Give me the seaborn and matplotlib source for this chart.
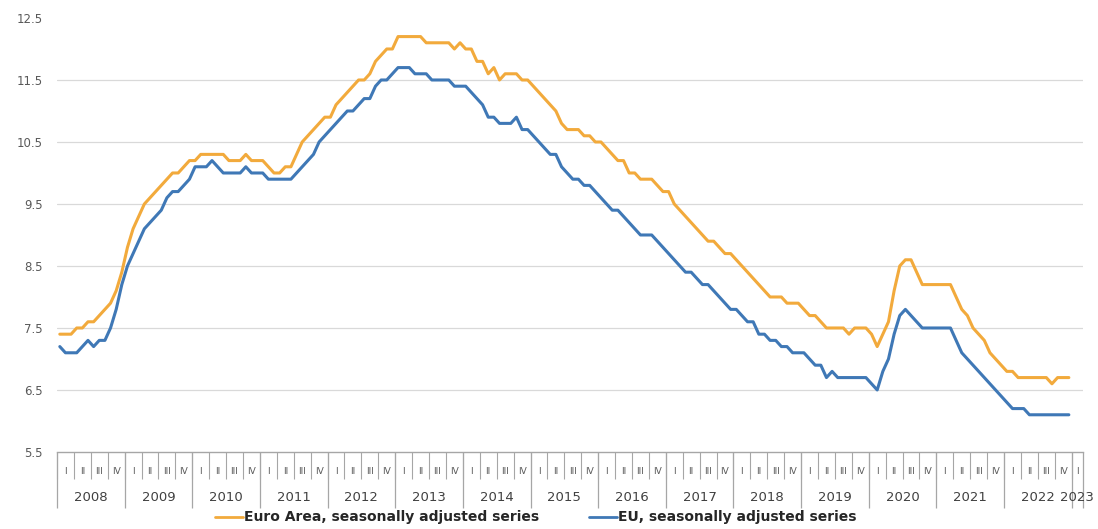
import numpy as np
import pandas as pd
import matplotlib
matplotlib.use("Agg")
import matplotlib.pyplot as plt
from matplotlib.lines import Line2D
import seaborn as sns

# ---------------- data ----------------
years = [str(y) for y in range(2008, 2024)]
quarters = ["I", "II", "III", "IV"]
n_months = 182  # Jan 2008 .. Feb 2023 categories on the axis

series_names = ["Euro Area, seasonally adjusted series", "EU, seasonally adjusted series"]

euro_area = [
    7.4, 7.4, 7.4, 7.5, 7.5, 7.6, 7.6, 7.7, 7.8, 7.9, 8.1, 8.4,          # 2008
    8.8, 9.1, 9.3, 9.5, 9.6, 9.7, 9.8, 9.9, 10.0, 10.0, 10.1, 10.2,     # 2009
    10.2, 10.3, 10.3, 10.3, 10.3, 10.3, 10.2, 10.2, 10.2, 10.3, 10.2, 10.2,  # 2010
    10.2, 10.1, 10.0, 10.0, 10.1, 10.1, 10.3, 10.5, 10.6, 10.7, 10.8, 10.9,  # 2011
    10.9, 11.1, 11.2, 11.3, 11.4, 11.5, 11.5, 11.6, 11.8, 11.9, 12.0, 12.0,  # 2012
    12.2, 12.2, 12.2, 12.2, 12.2, 12.1, 12.1, 12.1, 12.1, 12.1, 12.0, 12.1,  # 2013
    12.0, 12.0, 11.8, 11.8, 11.6, 11.7, 11.5, 11.6, 11.6, 11.6, 11.5, 11.5,  # 2014
    11.4, 11.3, 11.2, 11.1, 11.0, 10.8, 10.7, 10.7, 10.7, 10.6, 10.6, 10.5,  # 2015
    10.5, 10.4, 10.3, 10.2, 10.2, 10.0, 10.0, 9.9, 9.9, 9.9, 9.8, 9.7,       # 2016
    9.7, 9.5, 9.4, 9.3, 9.2, 9.1, 9.0, 8.9, 8.9, 8.8, 8.7, 8.7,              # 2017
    8.6, 8.5, 8.4, 8.3, 8.2, 8.1, 8.0, 8.0, 8.0, 7.9, 7.9, 7.9,              # 2018
    7.8, 7.7, 7.7, 7.6, 7.5, 7.5, 7.5, 7.5, 7.4, 7.5, 7.5, 7.5,              # 2019
    7.4, 7.2, 7.4, 7.6, 8.1, 8.5, 8.6, 8.6, 8.4, 8.2, 8.2, 8.2,              # 2020
    8.2, 8.2, 8.2, 8.0, 7.8, 7.7, 7.5, 7.4, 7.3, 7.1, 7.0, 6.9,              # 2021
    6.8, 6.8, 6.7, 6.7, 6.7, 6.7, 6.7, 6.7, 6.6, 6.7, 6.7, 6.7,              # 2022
]

eu = [
    7.2, 7.1, 7.1, 7.1, 7.2, 7.3, 7.2, 7.3, 7.3, 7.5, 7.8, 8.2,              # 2008
    8.5, 8.7, 8.9, 9.1, 9.2, 9.3, 9.4, 9.6, 9.7, 9.7, 9.8, 9.9,              # 2009
    10.1, 10.1, 10.1, 10.2, 10.1, 10.0, 10.0, 10.0, 10.0, 10.1, 10.0, 10.0,  # 2010
    10.0, 9.9, 9.9, 9.9, 9.9, 9.9, 10.0, 10.1, 10.2, 10.3, 10.5, 10.6,       # 2011
    10.7, 10.8, 10.9, 11.0, 11.0, 11.1, 11.2, 11.2, 11.4, 11.5, 11.5, 11.6,  # 2012
    11.7, 11.7, 11.7, 11.6, 11.6, 11.6, 11.5, 11.5, 11.5, 11.5, 11.4, 11.4,  # 2013
    11.4, 11.3, 11.2, 11.1, 10.9, 10.9, 10.8, 10.8, 10.8, 10.9, 10.7, 10.7,  # 2014
    10.6, 10.5, 10.4, 10.3, 10.3, 10.1, 10.0, 9.9, 9.9, 9.8, 9.8, 9.7,       # 2015
    9.6, 9.5, 9.4, 9.4, 9.3, 9.2, 9.1, 9.0, 9.0, 9.0, 8.9, 8.8,              # 2016
    8.7, 8.6, 8.5, 8.4, 8.4, 8.3, 8.2, 8.2, 8.1, 8.0, 7.9, 7.8,              # 2017
    7.8, 7.7, 7.6, 7.6, 7.4, 7.4, 7.3, 7.3, 7.2, 7.2, 7.1, 7.1,              # 2018
    7.1, 7.0, 6.9, 6.9, 6.7, 6.8, 6.7, 6.7, 6.7, 6.7, 6.7, 6.7,              # 2019
    6.6, 6.5, 6.8, 7.0, 7.4, 7.7, 7.8, 7.7, 7.6, 7.5, 7.5, 7.5,              # 2020
    7.5, 7.5, 7.5, 7.3, 7.1, 7.0, 6.9, 6.8, 6.7, 6.6, 6.5, 6.4,              # 2021
    6.3, 6.2, 6.2, 6.2, 6.1, 6.1, 6.1, 6.1, 6.1, 6.1, 6.1, 6.1,              # 2022
]

colors = ["#F2AA3C", "#3F78B6"]

# ---------------- style ----------------
sns.set_theme(style="white")
plt.rcParams["font.family"] = ["DejaVu Sans"]

fig = plt.figure(figsize=(10.98, 5.29), dpi=100)
ax = fig.add_axes([0.0519, 0.1456, 0.9344, 0.8204])

df = pd.DataFrame({
    "month": np.concatenate([np.arange(len(euro_area)), np.arange(len(eu))]) + 0.5,
    "rate": euro_area + eu,
    "series": [series_names[0]] * len(euro_area) + [series_names[1]] * len(eu),
})
sns.lineplot(data=df, x="month", y="rate", hue="series", hue_order=series_names,
             palette=colors, linewidth=2.2, ax=ax, legend=False)

ax.set_xlim(0, n_months)
ax.set_ylim(5.5, 12.5)
ax.set_yticks(np.arange(5.5, 12.6, 1.0))
ax.set_yticklabels([f"{v:.1f}" for v in np.arange(5.5, 12.6, 1.0)])
ax.set_xlabel("")
ax.set_ylabel("")
ax.yaxis.grid(True, color="#d9d9d9", linewidth=0.9)
ax.set_axisbelow(True)
gl = ax.get_ygridlines()
gl[0].set_visible(False)
gl[-1].set_visible(False)

for s in ["left", "top", "right"]:
    ax.spines[s].set_visible(False)
ax.spines["bottom"].set_color("#a6a6a6")
ax.spines["bottom"].set_linewidth(1.0)

ax.tick_params(axis="y", length=0, labelsize=8.5, labelcolor="#595959", pad=10)

# month ticks
ax.set_xticks(np.arange(0, n_months + 1))
ax.set_xticklabels([])
ax.tick_params(axis="x", length=7, width=0.8, color="#a6a6a6", direction="out")

trans = ax.get_xaxis_transform()
# quarter separators
q_bounds = np.arange(0, n_months + 1, 3)
ax.vlines(q_bounds, -0.062, 0, transform=trans, colors="#a6a6a6", linewidth=0.8, clip_on=False)
# year separators
y_bounds = list(np.arange(0, n_months, 12)) + [n_months]
ax.vlines(y_bounds, -0.128, 0, transform=trans, colors="#a6a6a6", linewidth=0.9, clip_on=False)

# quarter labels
for qs in range(0, n_months, 3):
    qe = min(qs + 3, n_months)
    ax.text((qs + qe) / 2, -0.044, quarters[(qs // 3) % 4], transform=trans,
            ha="center", va="center", fontsize=6.5, color="#595959")

# year labels
for k, yr in enumerate(years):
    ys = k * 12
    ye = min(ys + 12, n_months)
    ax.text((ys + ye) / 2, -0.104, yr, transform=trans,
            ha="center", va="center", fontsize=9.5, color="#404040")

handles = [Line2D([0], [0], color=c, lw=2.0) for c in colors]
fig.legend(handles, series_names, loc="center", bbox_to_anchor=(0.488, 0.022),
           ncol=2, frameon=False, prop={"weight": "bold", "size": 10},
           handlelength=2.0, handletextpad=0.1, columnspacing=3.6)

fig.savefig("out.png", dpi=100)
